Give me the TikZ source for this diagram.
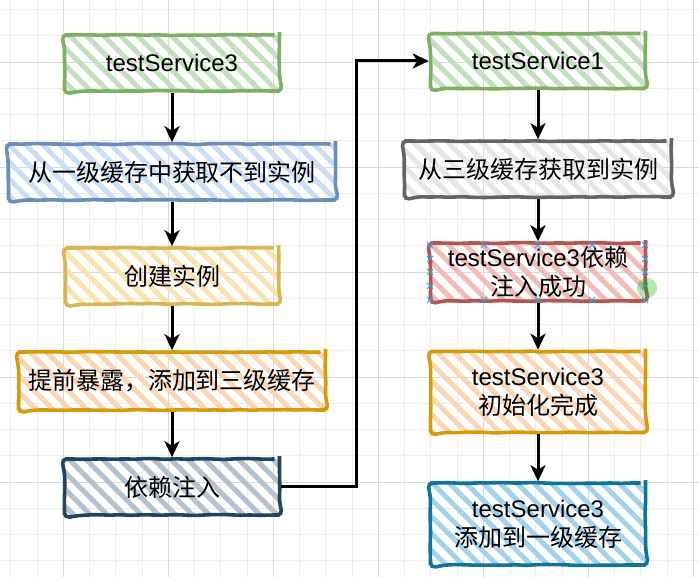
\documentclass[tikz,border=0pt]{standalone}
\usepackage{fontspec}
\setmainfont{Liberation Sans}
\newfontfamily\cjk{Noto Sans CJK SC}
\usetikzlibrary{arrows.meta,patterns.meta,decorations.pathmorphing}

\definecolor{greenline}{HTML}{7DB062}
\definecolor{greenfill}{HTML}{C4DFBF}
\definecolor{blueline}{HTML}{6C8EBF}
\definecolor{bluefill}{HTML}{CCDEF6}
\definecolor{yellowline}{HTML}{D9B650}
\definecolor{yellowfill}{HTML}{F9E3AE}
\definecolor{orangeline}{HTML}{D99A0A}
\definecolor{orangefill}{HTML}{FBD6B4}
\definecolor{darkline}{HTML}{23445D}
\definecolor{darkfill}{HTML}{B3C2CE}
\definecolor{grayline}{HTML}{646464}
\definecolor{grayfill}{HTML}{E6E6E6}
\definecolor{redline}{HTML}{B85450}
\definecolor{redfill}{HTML}{F2BAB8}
\definecolor{tealline}{HTML}{10739E}
\definecolor{tealfill}{HTML}{A3D3EA}
\definecolor{handle}{HTML}{29A3E6}

\begin{document}
\begin{tikzpicture}[x=1pt,y=1pt,
		box/.style={draw, line width=3.6pt, rounded corners=5pt, minimum width=215pt, minimum height=56pt,
			align=center, font=\fontsize{24}{29}\selectfont,
			decorate, decoration={random steps,segment length=10pt,amplitude=0.5pt}},
		hatch/.style 2 args={draw=#1, pattern={Lines[angle=-45,distance=12pt,line width=5pt]}, pattern color=#2},
		flow/.style={-{Stealth[length=16pt,width=15pt,inset=4.5pt]}, line width=3pt},
		gridline/.style={line width=0.5pt, black!7},
		gridmajor/.style={line width=0.7pt, black!15}]
		\useasboundingbox (0,0) rectangle (699,577);
		\fill[white] (0,0) rectangle (699,577);
		% grid
		\foreach \i in {-3,...,24} {
			\draw[gridline] ({63+26.25*\i},0) -- ({63+26.25*\i},577);
			\draw[gridline] (0,{515-26.25*\i}) -- (699,{515-26.25*\i});
		}
		\foreach \i in {-1,...,6} {
			\draw[gridmajor] ({63+105*\i},0) -- ({63+105*\i},577);
			\draw[gridmajor] (0,{515-105*\i}) -- (699,{515-105*\i});
		}

		% left column
		\node[box, hatch={greenline}{greenfill}] (ts3) at (172,514) {testService3};
		\node[box, hatch={blueline}{bluefill}, minimum width=327pt] (miss) at (172,405) {\cjk 从一级缓存中获取不到实例};
		\node[box, hatch={yellowline}{yellowfill}, minimum width=213pt] (create) at (172,301) {\cjk 创建实例};
		\node[box, hatch={orangeline}{orangefill}, minimum width=307pt, minimum height=58pt] (expose) at (172,196) {\cjk 提前暴露，添加到三级缓存};
		\node[box, hatch={darkline}{darkfill}] (inject) at (172,90) {\cjk 依赖注入};

		% right column
		\node[box, hatch={greenline}{greenfill}, minimum height=55pt] (ts1) at (538,516) {testService1};
		\node[box, hatch={grayline}{grayfill}, minimum width=267pt] (hit) at (538,408) {\cjk 从三级缓存获取到实例};
		\node[box, hatch={redline}{redfill}, minimum height=55pt] (done) at (538,305) {testService3{\cjk 依赖}\\{\cjk 注入成功}};
		\node[box, hatch={orangeline}{orangefill}, minimum height=81pt] (init) at (538,185) {testService3\\{\cjk 初始化完成}};
		\node[box, hatch={tealline}{tealfill}, minimum height=82pt] (cache) at (538,53) {testService3\\{\cjk 添加到一级缓存}};

		% selection handles
		\foreach \x in {430,484,538,592,645} {
			\foreach \y in {332,277} {
				\draw[handle, line width=1pt] (\x-3,\y-3) -- (\x+3,\y+3) (\x-3,\y+3) -- (\x+3,\y-3);
			}
		}
		\foreach \x in {430,645} {
			\foreach \y in {318,305,291} {
				\draw[handle, line width=1pt] (\x-3,\y-3) -- (\x+3,\y+3) (\x-3,\y+3) -- (\x+3,\y-3);
			}
		}
		\fill[green!70!black, opacity=0.3] (647,289) circle (10);

		\foreach \a/\b in {ts3/miss, miss/create, create/expose, expose/inject, ts1/hit, hit/done, done/init, init/cache}
			\draw[flow] (\a) -- (\b);
		\draw[flow] (inject.east) -- ++(75,0) |- (ts1.west);
	\end{tikzpicture}
\end{document}
